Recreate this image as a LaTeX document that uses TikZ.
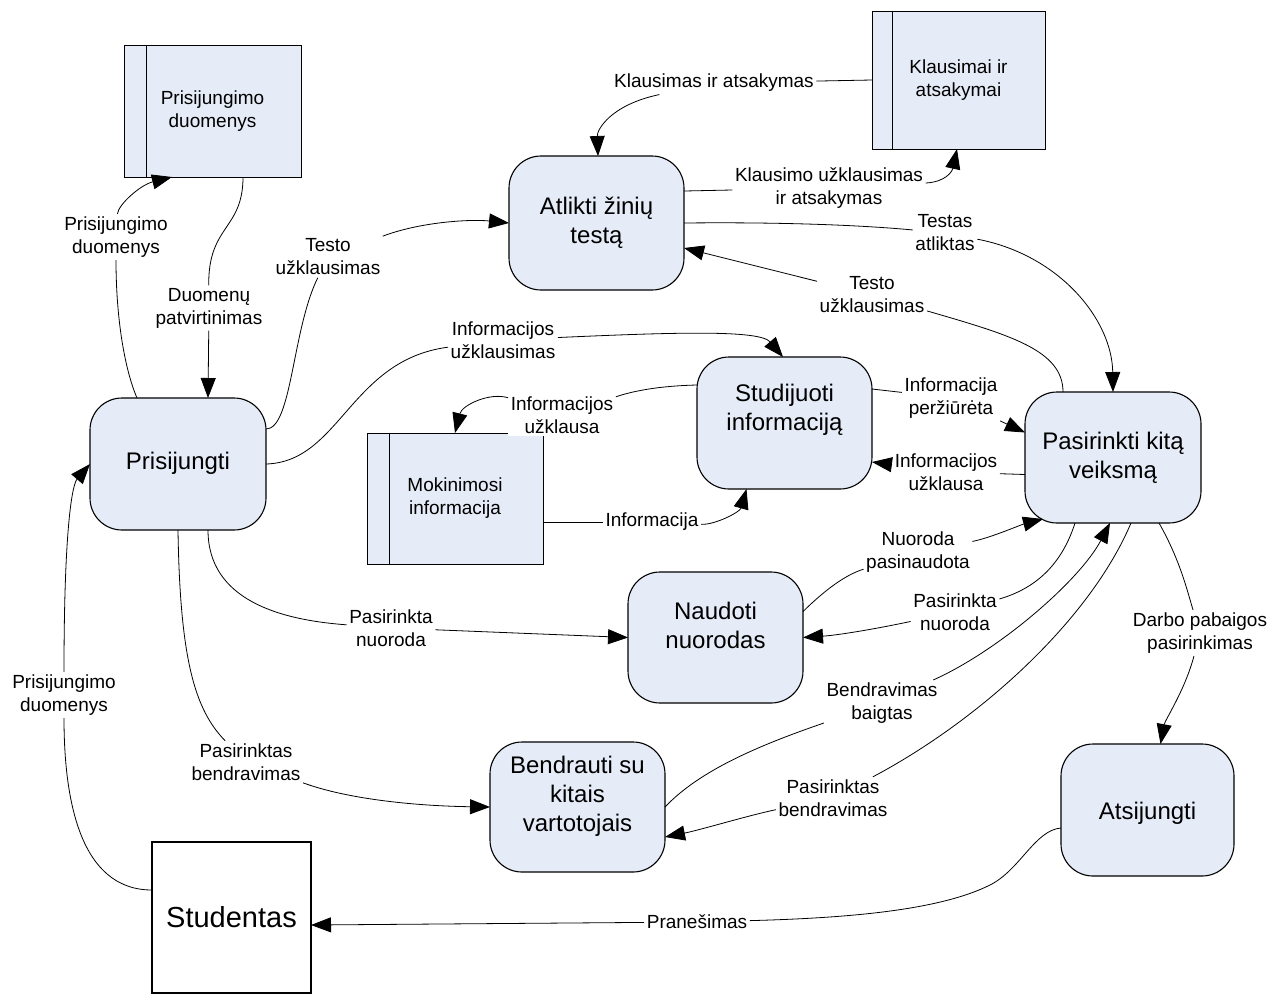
\documentclass[tikz,border=0pt]{standalone}
\usepackage{fontspec}
\setmainfont{Liberation Sans}
\usetikzlibrary{arrows.meta}
\definecolor{procfill}{RGB}{230,236,247}
\begin{document}
\begin{tikzpicture}[x=1pt,y=-1pt,
  proc/.style={draw, line width=1.1pt, fill=procfill, rounded corners=32pt,
    minimum width=175pt, minimum height=132pt, inner sep=0pt, outer sep=0pt},
  ptext/.style={font=\fontsize{24}{29}\selectfont, align=center, inner sep=0pt},
  store/.style={draw, line width=0.9pt, fill=procfill, inner sep=0pt, outer sep=0pt,
    font=\fontsize{19}{23}\selectfont, align=center},
  ent/.style={draw, line width=1.1pt, fill=white, minimum width=159pt, minimum height=151pt,
    inner sep=0pt, outer sep=0pt, font=\fontsize{29}{34}\selectfont},
  lab/.style={font=\fontsize{19}{23}\selectfont, align=center, fill=white, inner sep=2.5pt},
  flow/.style={line width=0.8pt, draw=black},
  arr/.style={flow, -{Triangle[length=20pt,width=15pt]}},
]
\useasboundingbox (0,0) rectangle (1285,994);

% processes
\node[proc, minimum width=176pt, label={[ptext,yshift=1pt]center:Prisijungti}] (login) at (178,464) {};
\node[proc, minimum height=134pt, label={[ptext]center:Atlikti žinių\\testą}] (test) at (596.5,223) {};
\node[proc, label={[ptext,yshift=13pt]center:Studijuoti\\informaciją}] (study) at (784.5,423) {};
\node[proc, minimum width=176pt, minimum height=131pt, label={[ptext]center:Pasirinkti kitą\\veiksmą}] (choose) at (1113,457.5) {};
\node[proc, minimum height=131pt, label={[ptext,yshift=12pt]center:Naudoti\\nuorodas}] (links) at (715.5,637.5) {};
\node[proc, minimum height=130pt, label={[ptext,yshift=11pt]center:Bendrauti su\\kitais\\vartotojais}] (chat) at (577.5,807) {};
\node[proc, minimum width=173pt, label={[ptext,yshift=-3pt]center:Atsijungti}] (logout) at (1147.5,810) {};

% external entity
\node[ent] (student) at (231.5,917.5) {Studentas};

% data stores
\node[store, minimum width=177pt, minimum height=132pt] (s1) at (212.5,111) {Prisijungimo\\duomenys};
\node[store, minimum width=173pt, minimum height=138pt] (s2) at (958.5,80) {Klausimai ir\\atsakymai};
\node[store, minimum width=176pt, minimum height=131pt] (s3) at (455,498.5) {Mokinimosi\\informacija};
\foreach \s/\d in {s1/22pt, s2/20pt, s3/22pt}
  \draw[line width=0.9pt] ([xshift=\d]\s.north west) -- ([xshift=\d]\s.south west);

% flow labels
\node[lab] (l1)  at (116,237)  {Prisijungimo\\duomenys};
\node[lab] (l2)  at (209,308)  {Duomenų\\patvirtinimas};
\node[lab] (l3)  at (328,257)  {Testo\\užklausimas};
\node[lab] (l4)  at (503,340)  {Informacijos\\užklausimas};
\node[lab] (l5)  at (391,628)  {Pasirinkta\\nuoroda};
\node[lab] (l6)  at (246,762)  {Pasirinktas\\bendravimas};
\node[lab] (l7)  at (64,695)   {Prisijungimo\\duomenys};
\node[lab] (l8)  at (714,83)   {Klausimas ir atsakymas};
\node[lab] (l9)  at (829,188)  {Klausimo užklausimas\\ir atsakymas};
\node[lab] (l10) at (945,233)  {Testas\\atliktas};
\node[lab] (l11) at (872,295)  {Testo\\užklausimas};
\node[lab] (l12) at (562,415)  {Informacijos\\užklausa};
\node[lab] (l13) at (652,522)  {Informacija};
\node[lab] (l14) at (951,398)  {Informacija\\peržiūrėta};
\node[lab] (l15) at (946,472)  {Informacijos\\užklausa};
\node[lab] (l16) at (918,552)  {Nuoroda\\pasinaudota};
\node[lab] (l17) at (955,612)  {Pasirinkta\\nuoroda};
\node[lab] (l18) at (882,703)  {Bendravimas\\baigtas};
\node[lab] (l19) at (833,798)  {Pasirinktas\\bendravimas};
\node[lab] (l20) at (1200,633) {Darbo pabaigos\\pasirinkimas};
\node[lab] (l21) at (697,922)  {Pranešimas};

% login flows
\draw[flow] ([xshift=-41pt]login.north) .. controls (125,370) and (116,320) .. (l1);
\draw[arr] (l1) .. controls (118,205) and (140,185) .. ([xshift=-40.5pt]s1.south);
\draw[flow] ([xshift=30.5pt]s1.south) .. controls (243,230) and (208,225) .. (l2);
\draw[arr] (l2) -- ([xshift=30pt]login.north);
\draw[flow] ([yshift=35pt]login.east) .. controls (292,429) and (292,330) .. (l3);
\draw[arr] (l3) .. controls (420,222) and (470,219) .. (test.west);
\draw[flow] (login.east) .. controls (340,462) and (350,360) .. (l4);
\draw[arr] (l4) .. controls (680,332) and (760,330) .. ([xshift=-1.5pt]study.north);
\draw[flow] ([xshift=30pt]login.south) .. controls (208,600) and (280,620) .. (l5);
\draw[arr] (l5) -- (links.west);
\draw[flow] (login.south) .. controls (180,660) and (195,710) .. (l6);
\draw[arr] (l6) .. controls (350,800) and (420,806) .. (chat.west);
\draw[flow] ([yshift=27.5pt]student.west) .. controls (80,890) and (64,800) .. (l7);
\draw[arr] (l7) .. controls (64,530) and (72,485) .. (login.west);

% knowledge test flows
\draw[flow] (s2.west) -- (l8);
\draw[arr] (l8) .. controls (610,105) and (597,130) .. ([xshift=1.5pt]test.north);
\draw[flow] ([yshift=32pt]test.east) -- (l9);
\draw[arr] (l9) .. controls (945,182) and (952,172) .. ([xshift=-1.5pt]s2.south);
\draw[flow] (test.east) .. controls (780,222) and (860,225) .. (l10);
\draw[arr] (l10) .. controls (1060,255) and (1112,320) .. (choose.north);
\draw[flow] ([xshift=-50pt]choose.north) .. controls (1063,350) and (1010,335) .. (l11);
\draw[arr] (l11) -- ([yshift=-25pt]test.east);

% study flows
\draw[flow] ([yshift=38pt]study.west) .. controls (655,386) and (630,392) .. (l12);
\draw[arr] (l12) .. controls (490,392) and (462,405) .. (s3.north);
\draw[flow] ([yshift=-23.5pt]s3.east) -- (l13);
\draw[arr] (l13) .. controls (715,525) and (740,512) .. ([xshift=-38pt]study.south);
\draw[flow] ([yshift=34pt]study.east) -- (l14);
\draw[arr] (l14) -- ([yshift=25pt]choose.west);
\draw[flow] ([yshift=-17pt]choose.west) -- (l15);
\draw[arr] (l15) -- ([yshift=-39pt]study.east);

% links and chat flows
\draw[flow] ([yshift=26pt]links.east) .. controls (825,590) and (845,575) .. (l16);
\draw[arr] (l16) .. controls (990,538) and (1020,525) .. ([xshift=18pt,yshift=4pt]choose.south west);
\draw[flow] ([xshift=-38pt]choose.south) .. controls (1060,570) and (1030,590) .. (l17);
\draw[arr] (l17) .. controls (880,628) and (840,635) .. (links.east);
\draw[flow] (chat.east) .. controls (700,770) and (760,745) .. (l18);
\draw[arr] (l18) .. controls (1000,650) and (1080,580) .. ([xshift=-3pt]choose.south);
\draw[flow] ([xshift=18pt]choose.south) .. controls (1090,620) and (980,720) .. (l19);
\draw[arr] (l19) .. controls (750,815) and (700,830) .. ([yshift=-30pt]chat.east);

% logout flows
\draw[flow] ([xshift=46pt]choose.south) .. controls (1180,560) and (1187,590) .. (l20);
\draw[arr] (l20) .. controls (1185,690) and (1165,720) .. ([xshift=13pt]logout.north);
\draw[flow] ([yshift=-18pt]logout.west) .. controls (1035,830) and (1020,870) .. (990,885)
  .. controls (940,910) and (850,918) .. (l21);
\draw[arr] (l21) -- ([yshift=-7.5pt]student.east);
\end{tikzpicture}
\end{document}
